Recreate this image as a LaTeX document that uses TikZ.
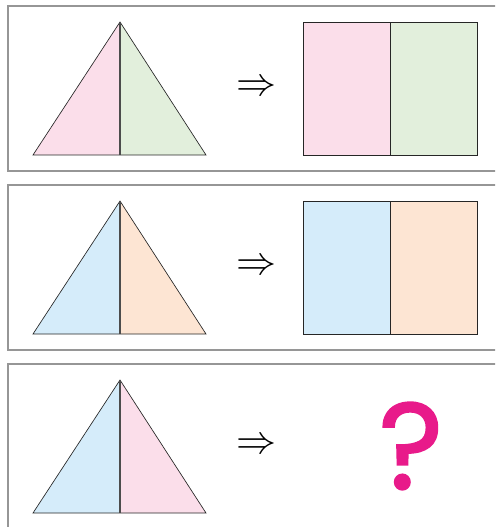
\RequirePackage{fix-cm}
\documentclass[tikz,border=0pt]{standalone}
\usepackage{fontspec}
\newfontfamily\qmarkfont{Poppins}[FakeBold=1.6]
\usetikzlibrary{positioning}
\definecolor{panelgray}{RGB}{150,150,150}
\definecolor{rosefill}{RGB}{251,222,234}
\definecolor{sagefill}{RGB}{226,239,220}
\definecolor{skyfill}{RGB}{213,236,250}
\definecolor{peachfill}{RGB}{253,229,211}
\definecolor{qmagenta}{RGB}{232,26,138}

\begin{document}
\begin{tikzpicture}[
  x=0.75pt, y=-0.75pt,
  panelbox/.style={
    draw=panelgray,
    line width=0.9pt
  },
  edge/.style={
    draw=black!85,
    line width=0.5pt
  },
  midline/.style={
    draw=black!70,
    line width=0.9pt
  },
  halfbox/.style={
    draw=black!85,
    line width=0.6pt,
    minimum width=65.25pt,
    minimum height=99.75pt,
    inner sep=0pt,
    outer sep=0pt
  },
  implies/.style={
    font=\fontsize{30}{30}\selectfont,
    inner sep=0pt
  }
]
\useasboundingbox (0,0) rectangle (495,527);
\clip (0,0) rectangle (495,527);
\foreach \dy/\lc/\rc/\sq [count=\i] in
  {0/rosefill/sagefill/1, 179/skyfill/peachfill/1, 358/skyfill/rosefill/0} {
  \begin{scope}[shift={(0,\dy)}]
    % frame of the panel, open on the right
    \draw[panelbox] (8,6) rectangle (520,171);
    % triangle cut along its height
    \coordinate (apex\i) at (120,22);
    \coordinate (foot\i) at (120,155);
    \fill[\lc] (apex\i) -- (33,155) -- (foot\i) -- cycle;
    \fill[\rc] (apex\i) -- (206,155) -- (foot\i) -- cycle;
    \draw[edge] (apex\i) -- (33,155) -- (206,155) -- cycle;
    \draw[midline] (apex\i) -- (foot\i);
    \node[implies] (arrow\i) at (256,88) {$\Rightarrow$};
    % rectangle made of the two halves
    \ifnum\sq=1
      \node[halfbox,fill=\lc,anchor=north west] (left\i) at (303,22) {};
      \node[halfbox,fill=\rc,right=0pt of left\i] (right\i) {};
    \else
      \node[font=\qmarkfont\fontsize{92}{92}\selectfont,
        text=qmagenta,inner sep=0pt] (query) at (411,88) {?};
    \fi
  \end{scope}
}
\end{tikzpicture}
\end{document}
